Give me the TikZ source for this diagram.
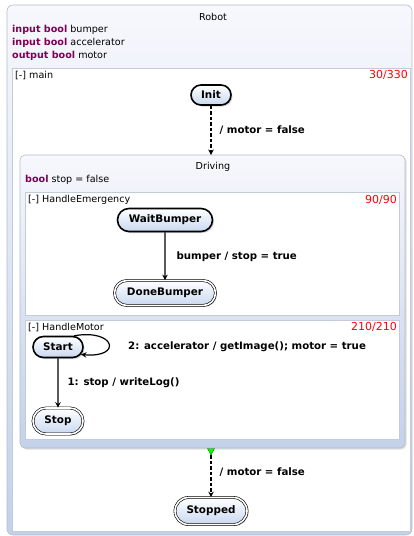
\documentclass[tikz,border=0pt]{standalone}
\usepackage{fontspec}
\setmainfont{DejaVu Sans}
\usetikzlibrary{arrows.meta,shapes.misc,shadows}

\definecolor{kw}{HTML}{7F0055}
\definecolor{boxline}{HTML}{B4BCCB}
\definecolor{boxtop}{HTML}{F7F8FD}
\definecolor{boxbottom}{HTML}{C3D1EA}
\definecolor{statebottom}{HTML}{C9D8F0}
\definecolor{regionline}{HTML}{C4CAD6}

\tikzset{
  txt/.style={font=\fontsize{9.6}{11}\selectfont, inner sep=0pt},
  lbl/.style={font=\fontsize{10.2}{12}\selectfont\bfseries, inner sep=0pt},
  prio/.style={font=\fontsize{11}{13}\selectfont, text=red, inner sep=0pt},
  statebox/.style={rounded rectangle, draw=black, line width=1.6pt,
    top color=white, bottom color=statebottom,
    font=\fontsize{10.4}{12}\selectfont\bfseries, inner sep=0pt,
    drop shadow={shadow xshift=1.5pt, shadow yshift=-1.5pt, fill=black!35}},
  finalbox/.style={statebox, line width=0.6pt, double=white, double distance=1.6pt},
  composite/.style={draw=boxline, line width=0.6pt, rounded corners=5pt,
    top color=boxtop, bottom color=boxbottom},
  region/.style={draw=regionline, line width=0.6pt, fill=white},
  tr/.style={draw, line width=1.2pt, -{Stealth[length=5.5pt,width=5.5pt]}},
  weak/.style={tr, dash pattern=on 3.5pt off 2pt},
}

\begin{document}
\begin{tikzpicture}[x=1pt, y=-1pt]
\useasboundingbox (0,0) rectangle (414,536);

% Robot (outer state with its declarations)
\path[composite, rounded corners=6pt] (7,5) rectangle (412,535);
\node[txt] (robottitle) at (213,17) {Robot};
\node[txt, anchor=west] (decl1) at (12,30) {\textcolor{kw}{\bfseries input bool} bumper};
\node[txt, anchor=west] (decl2) at (12,43) {\textcolor{kw}{\bfseries input bool} accelerator};
\node[txt, anchor=west] (decl3) at (12,56) {\textcolor{kw}{\bfseries output bool} motor};

% region main
\path[region] (12,68) rectangle (410,531);
\node[txt, anchor=west] (mainname) at (15,75) {[-] main};
\node[prio, anchor=east] (mainprio) at (408,75) {30/330};

\node[statebox, minimum width=40pt, minimum height=20pt] (init) at (211,95) {Init};

% Driving (composite state)
\path[composite, drop shadow={shadow xshift=1.5pt, shadow yshift=-1.5pt, fill=black!25}]
  (20,155) rectangle (405,448);
\coordinate (drivingtop) at (211,155);
\coordinate (drivingbottom) at (211,455);
\node[txt] (drivingtitle) at (213,167) {Driving};
\node[txt, anchor=west] (drivingdecl) at (25,180) {\textcolor{kw}{\bfseries bool} stop = false};

% region HandleEmergency
\path[region] (25,192) rectangle (399,315);
\node[txt, anchor=west] (hename) at (28,200) {[-] HandleEmergency};
\node[prio, anchor=east] (heprio) at (397,200) {90/90};
\node[statebox, minimum width=95pt, minimum height=23pt] (waitbumper) at (165,220) {WaitBumper};
\node[finalbox, minimum width=101pt, minimum height=25pt] (donebumper) at (165,293) {DoneBumper};

% region HandleMotor
\path[region] (25,320) rectangle (399,439);
\node[txt, anchor=west] (hmname) at (28,327) {[-] HandleMotor};
\node[prio, anchor=east] (hmprio) at (397,327) {210/210};
\node[statebox, minimum width=50pt, minimum height=21pt] (start) at (58,347) {Start};
\node[finalbox, minimum width=50pt, minimum height=26pt] (stop) at (58,421) {Stop};
\node[lbl, anchor=west] (looplabel) at (128,347) {2: accelerator / getImage(); motor = true};

\node[finalbox, minimum width=72pt, minimum height=27pt] (stopped) at (211,511) {Stopped};

% termination marker of Driving
\path[draw=green!45!black, fill=green, line width=0.4pt]
  (207.5,448.5) -- (214.5,448.5) -- (211,455) -- cycle;

% transitions
\draw[weak] (init) -- node[lbl, anchor=west, xshift=8pt] (l1) {/ motor = false} (drivingtop);
\draw[tr] (waitbumper) -- node[lbl, anchor=west, xshift=11pt] (l2) {bumper / stop = true} (donebumper);
\draw[tr] (start.35) .. controls +(10:42pt) and +(-5:42pt) .. (start.-18);
\draw[tr] (start) -- node[lbl, anchor=west, xshift=9pt] (l3) {1: stop / writeLog()} (stop);
\draw[weak] (drivingbottom) -- node[lbl, anchor=west, xshift=8pt, yshift=4pt] (l4) {/ motor = false} (stopped);
\end{tikzpicture}
\end{document}
